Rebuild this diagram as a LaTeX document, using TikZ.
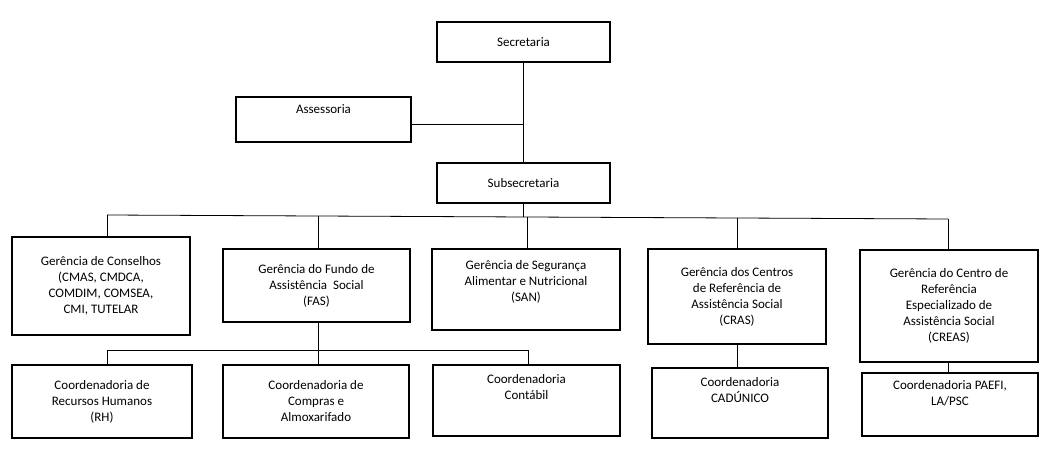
\documentclass[tikz,border=0pt]{standalone}
\usepackage{fontspec}
\setmainfont{Carlito}
\begin{document}
\begin{tikzpicture}[x=1pt,y=-1pt,
  box/.style={draw,line width=1.2pt,align=center,inner sep=0pt,font=\fontsize{13}{16}\selectfont},
  ln/.style={line width=0.8pt}]
\useasboundingbox (0,0) rectangle (1050,452);
\newcommand{\bx}[6]{\node[box,minimum width=#4-#2,minimum height=#5-#3] (#1) at ({(#2+#4)/2},{(#3+#5)/2}) {#6};}
\bx{sec}{437}{22}{610}{62}{Secretaria}
\bx{ass}{236}{97}{411}{142}{Assessoria\\[4pt]~}
\bx{sub}{437}{163}{610}{203}{Subsecretaria}
\bx{g1}{12}{237}{190}{335}{Gerência de Conselhos\\(CMAS, CMDCA,\\COMDIM, COMSEA,\\CMI, TUTELAR}
\bx{g2}{223}{249}{410}{322}{Gerência do Fundo de\\Assistência \ Social\\(FAS)}
\bx{g3}{432}{249}{620}{330}{Gerência de Segurança\\Alimentar e Nutricional\\(SAN)\\[2pt]}
\bx{g4}{648}{249}{826}{344}{Gerência dos Centros\\de Referência de\\Assistência Social\\(CRAS)}
\bx{g5}{860}{250}{1038}{362}{Gerência do Centro de\\Referência\\Especializado de\\Assistência Social\\(CREAS)}
\bx{c1}{12}{365}{192}{438}{Coordenadoria de\\Recursos Humanos\\(RH)}
\bx{c2}{223}{365}{409}{438}{Coordenadoria de\\Compras e\\Almoxarifado}
\bx{c3}{433}{365}{620}{436}{Coordenadoria\\Contábil\\[12pt]}
\bx{c4}{652}{368}{828}{438}{Coordenadoria\\CADÚNICO\\[10pt]}
\bx{c5}{862}{373}{1038}{436}{Coordenadoria PAEFI,\\LA/PSC\\[8pt]}
\coordinate (j1) at (523,124);
\coordinate (bl) at (107,215);
\coordinate (br) at (948,219);
\coordinate (fl) at (107,350);
\coordinate (fr) at (528,350);
\draw[ln] (sec.south -| j1) -- (sub.north -| j1);
\draw[ln] (ass.east |- j1) -- (j1);
\draw[ln] (sub.south -| j1) -- (523,217);
\draw[ln] (bl) -- (br);
\draw[ln] (bl) -- (g1.north -| bl);
\draw[ln] (318,216) -- (g2.north -| 318,0);
\draw[ln] (527,217) -- (g3.north -| 527,0);
\draw[ln] (737,218) -- (g4.north -| 737,0);
\draw[ln] (br) -- (g5.north -| br);
\draw[ln] (g2.south -| 318,0) -- (318,350);
\draw[ln] (fl) -- (fr);
\draw[ln] (fl) -- (c1.north -| fl);
\draw[ln] (318,350) -- (c2.north -| 318,0);
\draw[ln] (fr) -- (c3.north -| fr);
\draw[ln] (g4.south -| 737,0) -- (c4.north -| 737,0);
\draw[ln] (g5.south -| br) -- (c5.north -| br);
\end{tikzpicture}
\end{document}
